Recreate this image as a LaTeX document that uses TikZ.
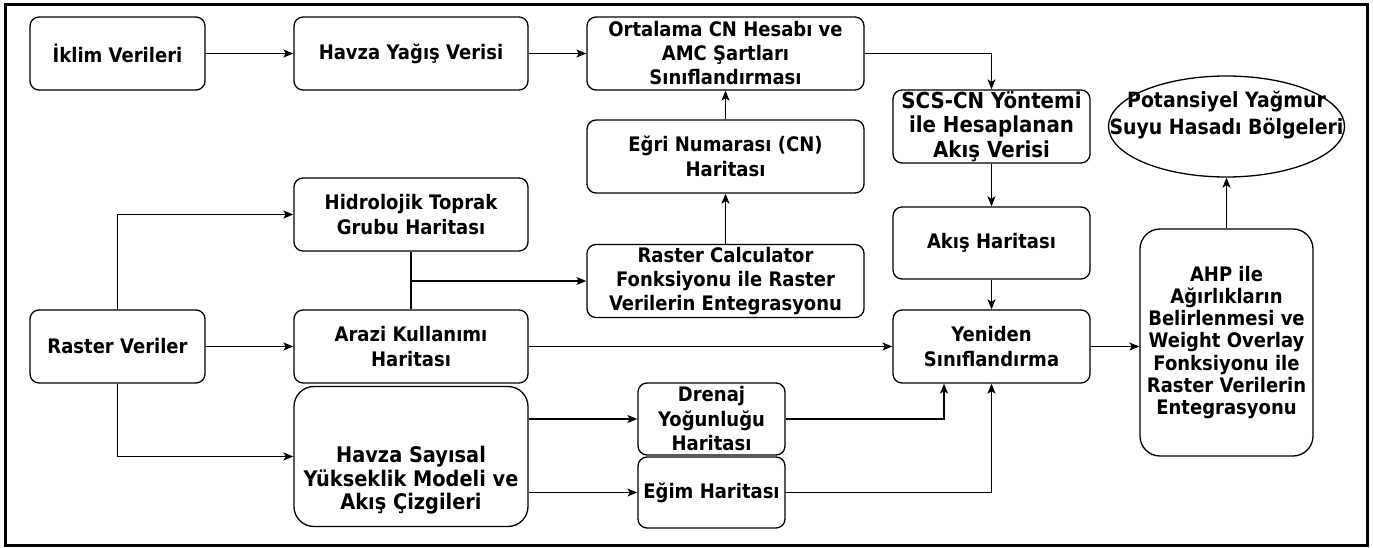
\documentclass[tikz,border=0pt]{standalone}
\usepackage{fontspec}
\newfontfamily\lbl{DejaVu Sans}[FakeStretch=0.9]
\usetikzlibrary{arrows.meta,shapes.geometric}
\begin{document}
\begin{tikzpicture}[x=1pt,y=-1pt,
  txt/.style={align=center, inner sep=0pt, font=\lbl\bfseries\fontsize{20}{24.5}\selectfont},
  fs/.style 2 args={font=\lbl\bfseries\fontsize{#1}{#2}\selectfont},
  box/.style={txt, draw, line width=1.3pt, rounded corners=9pt},
  bigbox/.style={box, rounded corners=20pt},
  oval/.style={txt, draw, line width=1.3pt, ellipse, inner sep=0pt},
  conn/.style={line width=1.2pt},
  arr/.style={conn, -{Stealth[length=10pt,width=8pt,inset=2.5pt]}}]
\useasboundingbox (0,0) rectangle (1373,548);
\draw[line width=3pt] (5,5) rectangle (1367,545);
% nodes
\node[box, minimum width=175pt, minimum height=73pt] (iklim) at (117.5,53.5) {İklim Verileri};
\node[box, minimum width=234pt, minimum height=73pt] (yagis) at (411,53.5) {Havza Yağış Verisi};
\node[box, fs={20}{24}, minimum width=277pt, minimum height=73pt] (ort) at (725.5,53.5) {Ortalama CN Hesabı ve\\AMC Şartları\\Sınıflandırması};
\node[box, minimum width=277pt, minimum height=73pt] (egri) at (725.5,156.5) {Eğri Numarası (CN)\\Haritası};
\node[box, fs={20}{24}, minimum width=277pt, minimum height=73pt] (rcalc) at (725.5,281) {Raster Calculator\\Fonksiyonu ile Raster\\Verilerin Entegrasyonu};
\node[box, minimum width=234pt, minimum height=73pt] (hidro) at (411,214.5) {Hidrolojik Toprak\\Grubu Haritası};
\node[box, minimum width=175pt, minimum height=73pt] (rasterv) at (117.5,346.5) {Raster Veriler};
\node[box, minimum width=234pt, minimum height=73pt] (arazi) at (411,346.5) {Arazi Kullanımı\\Haritası};
\node[bigbox, minimum width=234pt, minimum height=140pt,
  label={[txt, fs={21.5}{23.5}, yshift=-24pt]center:{Havza Sayısal\\Yükseklik Modeli ve\\Akış Çizgileri}}] (dem) at (411,456.5) {};
\node[box, minimum width=147pt, minimum height=72pt] (dren) at (711.5,419) {Drenaj\\Yoğunluğu\\Haritası};
\node[box, minimum width=147pt, minimum height=71pt] (egim) at (711.5,492.5) {Eğim Haritası};
\node[box, fs={22}{24.5}, minimum width=197pt, minimum height=73pt] (scs) at (991.5,126.5) {SCS-CN Yöntemi\\ile Hesaplanan\\Akış Verisi};
\node[box, minimum width=197pt, minimum height=72pt] (akis) at (991.5,243) {Akış Haritası};
\node[box, fs={20}{25}, minimum width=197pt, minimum height=73pt] (yen) at (991.5,346.5) {Yeniden\\Sınıflandırma};
\node[bigbox, fs={20}{22.3}, minimum width=173pt, minimum height=227pt] (ahp) at (1226.5,342.5) {AHP ile\\Ağırlıkların\\Belirlenmesi ve\\Weight Overlay\\Fonksiyonu ile\\Raster Verilerin\\Entegrasyonu};
\node[oval, minimum width=236pt, minimum height=101pt,
  label={[txt, fs={21}{27}, yshift=11pt]center:{Potansiyel Yağmur\\Suyu Hasadı Bölgeleri}}] (pot) at (1226.5,126.5) {};
% connectors
\draw[arr] (iklim) -- (yagis);
\draw[arr] (yagis) -- (ort);
\draw[arr] (ort.east) -| (scs.north);
\draw[arr] (egri) -- (ort);
\draw[arr] (rcalc) -- (egri);
\draw[arr] (scs) -- (akis);
\draw[arr] (akis) -- (yen);
\draw[arr] (arazi) -- (yen);
\draw[arr] (yen) -- (ahp.west |- yen.east);
\draw[arr] (ahp) -- (pot);
\draw[arr] (rasterv.north) |- (hidro.west);
\draw[arr] (rasterv) -- (arazi);
\draw[arr] (rasterv.south) |- (dem.west);
\draw[conn] (hidro) -- (arazi);
\coordinate (br) at (411,281);
\draw[arr] (br) -- (rcalc.west);
\draw[arr] (dem.east |- dren.west) -- (dren.west);
\draw[arr] (dem.east |- egim.west) -- (egim.west);
\draw[arr] (dren.east) -| ([xshift=-47.5pt]yen.south);
\draw[arr] (egim.east) -| (yen.south);
\end{tikzpicture}
\end{document}
